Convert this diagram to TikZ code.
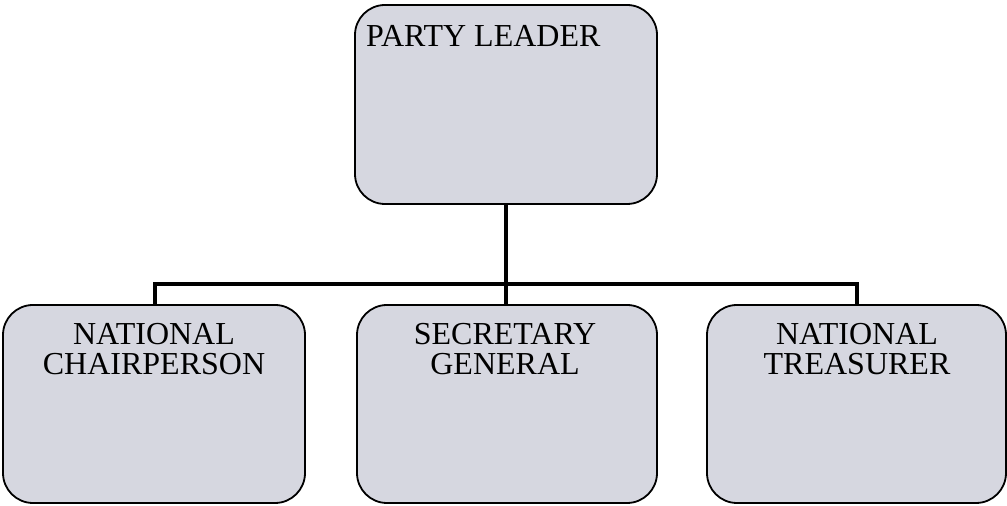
\documentclass[tikz,border=0pt]{standalone}
\usepackage{fontspec}
\setmainfont{Liberation Serif}
\definecolor{boxfill}{RGB}{214,215,224}
\tikzset{
    orgbox/.style={draw, line width=1.8pt, rounded corners=30pt, fill=boxfill, inner sep=0pt},
    orgtext/.style={inner sep=0pt, align=center, font=\fontsize{32}{30}\selectfont},
    orgline/.style={line width=3.8pt}
}
\begin{document}
\begin{tikzpicture}[x=1pt,y=1pt]

    \useasboundingbox (0,0) rectangle (1007,506);

    \node[orgbox, minimum width=302pt, minimum height=199pt] (leader) at (506,401.5) {};
    \node[orgbox, minimum width=302pt, minimum height=198pt] (chair) at (154,102) {};
    \node[orgbox, minimum width=300pt, minimum height=198pt] (secgen) at (507,102) {};
    \node[orgbox, minimum width=299pt, minimum height=198pt] (treas) at (856.5,102) {};

    % text sits near the top of each box
    \node[orgtext, anchor=base west] (leadertxt) at (366,459) {PARTY LEADER};
    \node[orgtext, anchor=base] (chairtxt) at (154,131) {NATIONAL\\CHAIRPERSON};
    \node[orgtext, anchor=base] (secgentxt) at (505,131) {SECRETARY\\GENERAL};
    \node[orgtext, anchor=base] (treastxt) at (857,131) {NATIONAL\\TREASURER};

    \coordinate (split) at (506,222);

    \draw[orgline] (leader.south) -- (split);
    \draw[orgline] (chair.north -| 155,0) |- (split) -| (treas.north -| 857,0);
    \draw[orgline] (split) -- (secgen.north -| 506,0);

\end{tikzpicture}
\end{document}
